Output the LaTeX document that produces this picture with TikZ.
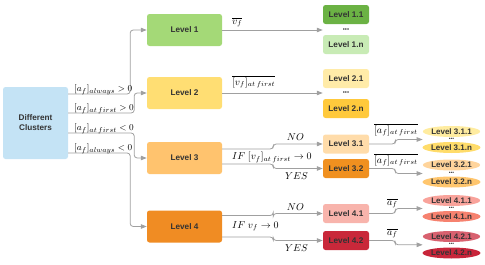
\documentclass[tikz,border=0pt]{standalone}
\usepackage{fontspec}
\setmainfont{Liberation Sans}
\usetikzlibrary{arrows.meta,shapes.geometric,calc}
\definecolor{linegray}{HTML}{A0A0A0}
\definecolor{txt}{HTML}{333333}
\definecolor{cBlue}{HTML}{C4E3F5}
\definecolor{cLa}{HTML}{A4D977}
\definecolor{cLaa}{HTML}{6BB244}
\definecolor{cLan}{HTML}{C8EBB5}
\definecolor{cLb}{HTML}{FFDE73}
\definecolor{cLba}{HTML}{FFEBA8}
\definecolor{cLbn}{HTML}{FFC93C}
\definecolor{cLc}{HTML}{FFC36E}
\definecolor{cLca}{HTML}{FFDCAA}
\definecolor{cLcb}{HTML}{F0901F}
\definecolor{cLd}{HTML}{F08C23}
\definecolor{cLda}{HTML}{F8B4AC}
\definecolor{cLdb}{HTML}{C9283A}
\definecolor{oCaa}{HTML}{FFECA0}
\definecolor{oCan}{HTML}{FFDC6A}
\definecolor{oCba}{HTML}{FFD49B}
\definecolor{oCbn}{HTML}{FFC66E}
\definecolor{oDaa}{HTML}{F9A39B}
\definecolor{oDan}{HTML}{F6826F}
\definecolor{oDba}{HTML}{D8616F}
\definecolor{oDbn}{HTML}{C8253A}
\begin{document}
\begin{tikzpicture}[x=1pt,y=-1pt,
  conn/.style={draw=linegray, line width=0.8pt, rounded corners=3pt, -{Triangle[length=6pt,width=4.5pt]}},
  box/.style={rectangle, rounded corners=2.5pt, inner sep=0pt, text=txt, font=\fontsize{8.2}{10}\selectfont\bfseries, align=center},
  big/.style={box, minimum width=75pt, minimum height=32pt},
  small/.style={box, minimum width=46pt, minimum height=19pt},
  oval/.style={ellipse, inner sep=0pt, minimum width=57pt, minimum height=11pt, text=txt, font=\fontsize{8}{9}\selectfont\bfseries},
  lab/.style={font=\fontsize{10}{12}\selectfont, inner sep=0pt, anchor=base west},
  labs/.style={lab, font=\fontsize{9.3}{11}\selectfont},
  labc/.style={font=\fontsize{10}{12}\selectfont, inner sep=0pt, anchor=base},
  dotsn/.style={font=\fontsize{6}{6}\selectfont, inner sep=0pt, text=txt},
  dotso/.style={font=\fontsize{5}{5}\selectfont, inner sep=0pt, text=txt}
]
\useasboundingbox (0,0) rectangle (485,265);
% main nodes
\node[box, fill=cBlue, minimum width=65pt, minimum height=72pt] (dc) at (35.5,123) {Different\\Clusters};
\node[big, fill=cLa] (l1) at (184.5,30) {Level 1};
\node[big, fill=cLb] (l2) at (184.5,93) {Level 2};
\node[big, fill=cLc] (l3) at (184.5,158) {Level 3};
\node[big, fill=cLd] (l4) at (184.5,226.5) {Level 4};
% second column
\node[small, fill=cLaa] (l11) at (346,14.5) {Level 1.1};
\node[dotsn] (d1) at (346,30) {•••};
\node[small, fill=cLan] (l1n) at (346,44.5) {Level 1.n};
\node[small, fill=cLba] (l21) at (346,78.5) {Level 2.1};
\node[dotsn] (d2) at (346,93) {•••};
\node[small, fill=cLbn] (l2n) at (346,108.5) {Level 2.n};
\node[small, fill=cLca] (l31) at (346,144) {Level 3.1};
\node[small, fill=cLcb] (l32) at (346,168.5) {Level 3.2};
\node[small, fill=cLda] (l41) at (346,213.5) {Level 4.1};
\node[small, fill=cLdb] (l42) at (346,240.5) {Level 4.2};
% third column
\node[oval, fill=oCaa] (o311) at (451.5,131.5) {Level 3.1.1};
\node[dotso] (d31) at (451.5,139.5) {•••};
\node[oval, fill=oCan] (o31n) at (451.5,147.5) {Level 3.1.n};
\node[oval, fill=oCba] (o321) at (451.5,165) {Level 3.2.1};
\node[dotso] (d32) at (451.5,173.5) {•••};
\node[oval, fill=oCbn] (o32n) at (451.5,182) {Level 3.2.n};
\node[oval, fill=oDaa] (o411) at (451.5,200.5) {Level 4.1.1};
\node[dotso] (d41) at (451.5,208.5) {•••};
\node[oval, fill=oDan] (o41n) at (451.5,216.5) {Level 4.1.n};
\node[oval, fill=oDba] (o421) at (451.5,236.5) {Level 4.2.1};
\node[dotso] (d42) at (451.5,244.8) {•••};
\node[oval, fill=oDbn] (o42n) at (451.5,253) {Level 4.2.n};
% connectors from clusters
\draw[conn] ([yshift=29pt]dc.east) -- ++(62,0) |- (l1.west);
\draw[conn] ([yshift=10pt]dc.east) -- ++(66,0) |- (l2.west);
\draw[conn] ([yshift=-10pt]dc.east) -- ++(66,0) |- (l3.west);
\draw[conn] ([yshift=-30pt]dc.east) -- ++(62,0) |- (l4.west);
\node[labs] (t1) at (74,91.5) {$[a_f]_{always} > 0$};
\node[labs] (t2) at (74,110.5) {$[a_f]_{at\,first} > 0$};
\node[labs] (t3) at (74,130.5) {$[a_f]_{at\,first} < 0$};
\node[labs] (t4) at (74,150.5) {$[a_f]_{always} < 0$};
% level 1, 2
\draw[conn] (l1.east) -- (l11.west |- l1.east);
\draw[conn] (l2.east) -- (l21.west |- l2.east);
\node[lab] (t5) at (232,24) {$\overline{v_f}$};
\node[lab] (t6) at (232,85) {$\overline{[v_f]_{at\,first}}$};
% level 3
\draw[conn] ([yshift=9pt]l3.east) -- ++(51,0) |- (l31.west);
\draw[conn] ([yshift=-6pt]l3.east) -- ++(51,0) |- (l32.west);
\node[labc] (t7) at (295.5,140.5) {$NO$};
\node[lab] (t8) at (232,159.5) {$IF\ [v_f]_{at\,first} \rightarrow 0$};
\node[labc] (t9) at (296.5,179) {$YES$};
% level 4
\draw[conn] ([yshift=11pt]l4.east) -- ++(51,0) |- (l41.west);
\draw[conn] ([yshift=-10.5pt]l4.east) -- ++(51,0) |- (l42.west);
\node[labc] (t10) at (295.5,210) {$NO$};
\node[lab] (t11) at (232,228) {$IF\ v_f \rightarrow 0$};
\node[labc] (t12) at (296.5,251.5) {$YES$};
% third level connectors
\draw[conn] (l31.east) -- ++(26,0) |- (o311.west |- d31);
\draw[conn] (l32.east) -- ++(26,0) |- (o321.west |- d32);
\draw[conn] (l41.east) -- ++(26,0) |- (o411.west |- d41);
\draw[conn] (l42.east) -- ++(26,0) |- (o421.west |- d42);
\node[lab] (t13) at (374,133) {$\overline{[a_f]_{at\,first}}$};
\node[lab] (t14) at (374,163) {$\overline{[a_f]_{at\,first}}$};
\node[lab] (t15) at (387,205) {$\overline{a_f}$};
\node[lab] (t16) at (387,235) {$\overline{a_f}$};
\end{tikzpicture}
\end{document}
